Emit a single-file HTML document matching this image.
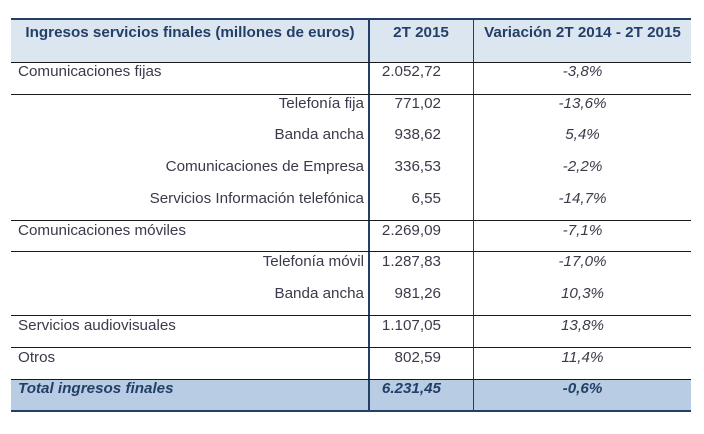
<!DOCTYPE html>
<html><head><meta charset="utf-8"><style>
body{margin:0;width:704px;height:434px;background:#fff;position:relative;overflow:hidden;font-family:"Liberation Sans",sans-serif;}
.a{position:absolute;}
.hl{position:absolute;left:11px;width:680px;height:1px;background:#1a1a1a;}
.t{position:absolute;font-size:15.2px;color:#3a3a4a;white-space:nowrap;line-height:17px;}
.h{font-weight:bold;color:#243f66;font-size:15.2px;}
.r{text-align:right;}
.c{text-align:center;}
.i{font-style:italic;}
</style></head><body>
<div class="a" style="left:11px;top:19px;width:680px;height:43px;background:#dce6f1"></div>
<div class="a" style="left:11px;top:379px;width:680px;height:32px;background:#b8cce4"></div>
<div class="a" style="left:11px;top:18px;width:680px;height:2px;background:#243f66"></div>
<div class="a" style="left:11px;top:410px;width:680px;height:2px;background:#243f66"></div>
<div class="a" style="left:368px;top:19px;width:2px;height:392px;background:#243f66"></div>
<div class="a" style="left:473px;top:19px;width:1px;height:392px;background:#243f66"></div>
<div class="hl" style="top:62px"></div>
<div class="hl" style="top:94px"></div>
<div class="hl" style="top:220px"></div>
<div class="hl" style="top:251px"></div>
<div class="hl" style="top:315px"></div>
<div class="hl" style="top:347px"></div>
<div class="hl" style="top:379px"></div>

<div class="t h" style="left:11px;width:358px;top:24px;text-align:center">Ingresos servicios finales (millones de euros)</div>
<div class="t h c" style="left:369px;width:104px;top:24px">2T 2015</div>
<div class="t h c" style="left:474px;width:217px;top:24px">Variación 2T 2014 - 2T 2015</div>

<div id="rows"></div>
<script>
const labels=["Comunicaciones fijas","Telefonía fija","Banda ancha","Comunicaciones de Empresa","Servicios Información telefónica","Comunicaciones móviles","Telefonía móvil","Banda ancha","Servicios audiovisuales","Otros","Total ingresos finales"];
const indent=[0,1,1,1,1,0,1,1,0,0,0];
const values=["2.052,72","771,02","938,62","336,53","6,55","2.269,09","1.287,83","981,26","1.107,05","802,59","6.231,45"];
const variations=["-3,8%","-13,6%","5,4%","-2,2%","-14,7%","-7,1%","-17,0%","10,3%","13,8%","11,4%","-0,6%"];
const root=document.getElementById('rows');
const rowH=31.73,top0=63;
labels.forEach((l,k)=>{
  const y=top0+k*rowH;
  const total=k===labels.length-1;
  const a=document.createElement('div');
  
  
  a.className='t'+(total?' h i':'')+(indent[k]?' r':'');
  a.style.top=y+'px';
  if(indent[k]){a.style.left='11px';a.style.width='353px';}else{a.style.left='18px';}
  a.textContent=l;root.appendChild(a);
  const b=document.createElement('div');
  
  
  b.className='t r'+(total?' h i':'');
  b.style.left='369px';b.style.width='72px';b.style.top=y+'px';
  b.textContent=values[k];root.appendChild(b);
  const c=document.createElement('div');
  
  
  c.className='t c i'+(total?' h':'');
  c.style.left='474px';c.style.width='217px';c.style.top=y+'px';
  c.textContent=variations[k];root.appendChild(c);
});
</script>
</body></html>
